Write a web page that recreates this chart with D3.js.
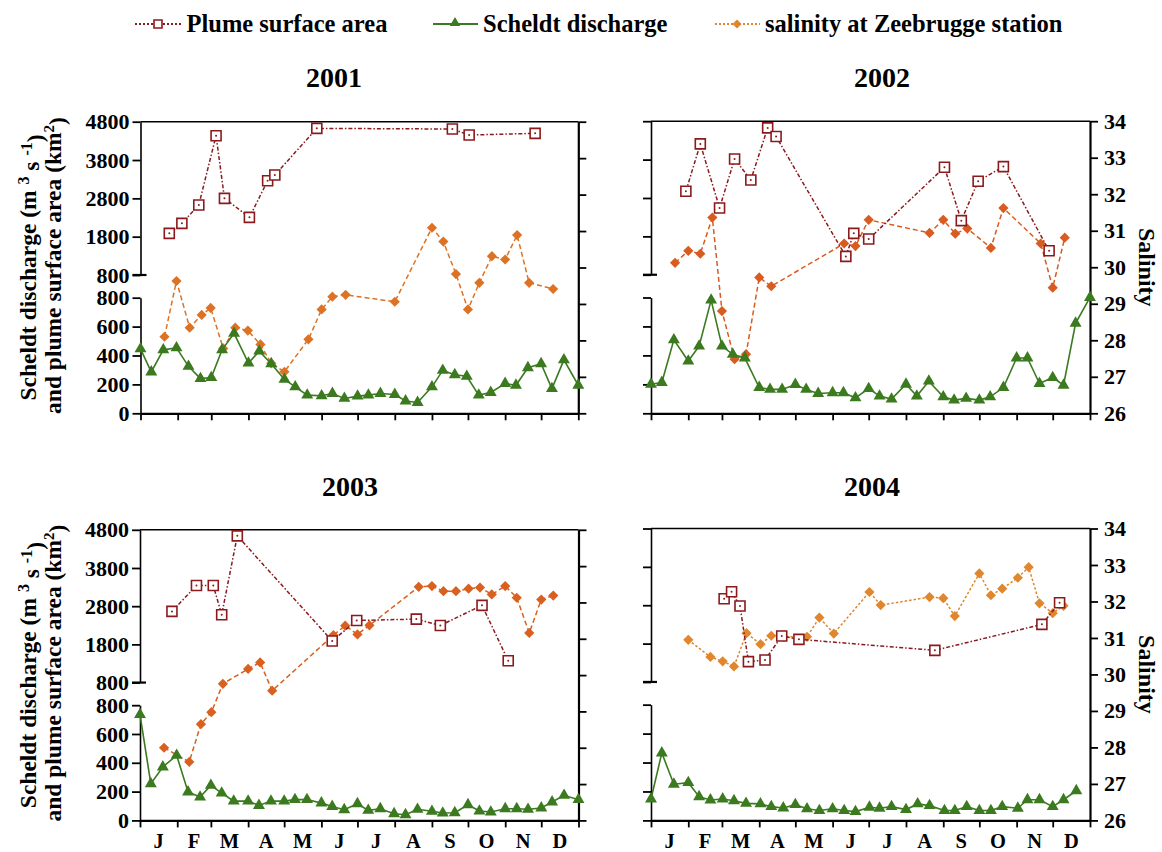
<!DOCTYPE html>
<html><head><meta charset="utf-8">
<script src="https://cdn.jsdelivr.net/npm/d3@7"></script>
<style>
body{margin:0;background:#fff}
svg text{font-family:"Liberation Serif","Times New Roman",serif;font-weight:bold;fill:#000}
</style>
</head><body><svg id="c" width="1162" height="852"></svg>
<script>
// ---------- data ----------
const months = ["J","F","M","A","M","J","J","A","S","O","N","D"];
const monthStarts = [0,31,59,90,120,151,181,212,243,273,304,334,365];
const dischargeTicks = [0,200,400,600,800];
const plumeTicks = [800,1800,2800,3800,4800];
const salinityTicks = [26,27,28,29,30,31,32,33,34];
const years = ["2001","2002","2003","2004"];
const legendLabels = ["Plume surface area","Scheldt discharge","salinity at Zeebrugge station"];

// [day of year, value]
const discharge2001 = [[0,446],[9,286],[19,439],[30,453],[40,325],[50,240],[59,247],[68,439],[78,553],[90,347],[99,430],[109,343],[120,235],[129,183],[139,126],[151,121],[160,137],[170,103],[181,119],[190,126],[200,137],[212,130],[221,85],[231,75],[243,183],[252,297],[262,267],[272,256],[282,126],[292,144],[304,206],[313,194],[323,315],[334,343],[343,171],[353,370],[365,194]];
const plume2001 = [[24,1887],[34.5,2148],[48.6,2626],[63,4435],[70,2800],[90.8,2304],[106,3261],[112,3409],[147,4626],[260,4609],[274,4452],[329,4496]];
const salinity2001 = [[20,28.10],[30,29.63],[41,28.35],[51,28.70],[58.5,28.89],[69,27.78],[79,28.35],[89.5,28.27],[100,27.89],[109,27.37],[120,27.14],[140,28.03],[151,28.85],[160,29.20],[171,29.25],[212,29.06],[243,31.09],[252.5,30.71],[263,29.82],[273,28.85],[282.5,29.58],[293,30.31],[304,30.22],[314,30.89],[324,29.58],[344,29.41]];

const discharge2002 = [[0,201],[9,213],[19,507],[31,361],[40,464],[50,782],[59,464],[68,407],[78,382],[90,178],[99,165],[109,165],[120,199],[129,165],[139,137],[151,142],[160,142],[170,107],[181,171],[190,119],[200,98],[212,201],[221,119],[231,222],[243,114],[252,91],[262,103],[273,91],[282,114],[293,178],[304,382],[313,382],[323,206],[334,247],[343,194],[353,622],[365,800]];
const plume2002 = [[29,2974],[41,4209],[57,2539],[69.5,3817],[83,3270],[97,4626],[104,4400],[162,1278],[168.6,1878],[181,1730],[244,3600],[258,2209],[272,3235],[293,3617],[331,1426]];
const salinity2002 = [[20,30.12],[31,30.45],[41,30.37],[51,31.36],[59,28.80],[69.5,27.48],[79,27.62],[90,29.72],[100,29.48],[160.6,30.65],[170,30.58],[181,31.30],[231.6,30.94],[243,31.30],[253,30.92],[263,31.06],[282.6,30.53],[293,31.62],[324,30.65],[334,29.44],[344,30.81]];

const discharge2003 = [[0,735],[9,255],[19,371],[30.5,452],[40,197],[50,162],[59,243],[68,190],[78,134],[90,134],[99,104],[109,134],[120,134],[129,144],[139,144],[151,121],[160,97],[170,74],[181,116],[190,70],[200,81],[211.5,46],[221,39],[231,77],[243,63],[252,51],[262,53],[273,109],[282.5,65],[292,58],[304,81],[313.6,81],[323,77],[334,86],[343,128],[353,174],[365,144]];
const plume2003 = [[26.6,2664],[47,3341],[61,3341],[68,2576],[81,4642],[160,1890],[180.4,2426],[230,2462],[250,2295],[284.7,2822],[306.5,1371]];
const salinity2003 = [[20,28.0],[41,27.61],[50.7,28.65],[59.4,28.98],[69,29.76],[90,30.17],[100,30.35],[110,29.57],[161,31.10],[170.8,31.36],[181,31.12],[191,31.37],[232,32.43],[243,32.45],[252.6,32.31],[263,32.31],[273.5,32.38],[283,32.41],[292.8,32.22],[304,32.45],[313.6,32.13],[324,31.16],[334,32.08],[344,32.19]];

const discharge2004 = [[0,148],[9,466],[19,250],[31,261],[40,164],[49.4,141],[59.6,148],[69,136],[79,118],[91,114],[100,95],[110,86],[120,109],[129.7,80],[140,68],[151,80],[160.6,68],[170,61],[181.6,91],[190,84],[200,95],[212,75],[221.7,114],[231.6,102],[244,68],[252.6,68],[262.5,95],[273,68],[282.6,68],[292,95],[305,84],[313,143],[323,143],[334,95],[343,143],[353.6,205]];
const plume2004 = [[60.8,2969],[67,3151],[74,2778],[81,1329],[94.8,1373],[108.7,1997],[123,1911],[236,1624],[325,2301],[339.7,2865]];
const salinity2004 = [[31,30.95],[49.4,30.48],[59.6,30.36],[69,30.22],[79.4,31.13],[91,30.83],[100,31.06],[110,31.03],[129.7,31.03],[140,31.56],[152,31.12],[181.6,32.26],[191,31.90],[231.6,32.12],[243,32.09],[252.6,31.60],[273,32.77],[282.6,32.17],[292,32.35],[305,32.65],[314,32.94],[323,31.95],[334,31.68],[343,31.88]];

// ---------- styles / layout ----------
const plumeColor = "#8a1a1c";
const dischargeColor = "#3b7a1f";
const plumeDash = "4,2,1.5,2";

const panels = [
  {year:years[0], plume:plume2001, discharge:discharge2001, salinity:salinity2001,
   x0:140.5, x1:578.3, y0:121.7, y1:413.3, left:true, right:false, mlab:false, tx:334, ty:87, sc:"#dd7224", sd:"5,3"},
  {year:years[1], plume:plume2002, discharge:discharge2002, salinity:salinity2002,
   x0:651, x1:1090, y0:121.2, y1:413.3, left:false, right:true, mlab:false, tx:882, ty:87, sc:"#d95b1f", sd:"5,3"},
  {year:years[2], plume:plume2003, discharge:discharge2003, salinity:salinity2003,
   x0:140, x1:578.5, y0:529.8, y1:820.4, left:true, right:false, mlab:true, tx:350, ty:496, sc:"#d9601f", sd:"5,3"},
  {year:years[3], plume:plume2004, discharge:discharge2004, salinity:salinity2004,
   x0:651, x1:1090, y0:528.5, y1:820.4, left:false, right:true, mlab:true, tx:872, ty:496, sc:"#e0862c", sd:"2.5,2"}
];

const svg = d3.select("#c");

function styleAxis(sel, w){
  sel.attr("font-family",null).attr("font-size",null);
  sel.selectAll("path.domain").attr("stroke","#000").attr("stroke-width",w);
  sel.selectAll(".tick line").attr("stroke","#000").attr("stroke-width",1.8);
  sel.selectAll(".tick text").style("font-size","22px");
}

const triSym = d3.symbol(d3.symbolTriangle, 62);
const sqSym = d3.symbol(d3.symbolSquare, 100);
const diaSym = d3.symbol(d3.symbolSquare, 52);

panels.forEach(p => {
  const g = svg.append("g");
  const x = d3.scaleLinear().domain([0,365]).range([p.x0,p.x1]);
  const h = p.y1 - p.y0;
  const yLow = d3.scaleLinear().domain([0,800]).range([p.y1, p.y0 + h*0.6035]);
  const yHigh = d3.scaleLinear().domain([800,4800]).range([p.y0 + h*0.5257, p.y0]);
  const ySal = d3.scaleLinear().domain([26,34]).range([p.y1, p.y0]);

  // top border
  g.append("line").attr("x1",p.x0).attr("x2",p.x1).attr("y1",p.y0).attr("y2",p.y0)
    .attr("stroke","#000").attr("stroke-width",1.6);

  const fmtL = p.left ? d3.format("d") : () => "";
  g.append("g").attr("transform",`translate(${p.x0},0)`)
    .call(d3.axisLeft(yHigh).tickValues(plumeTicks).tickSize(8).tickPadding(3).tickSizeOuter(0).tickFormat(fmtL))
    .call(s => styleAxis(s,1.6));
  g.append("g").attr("transform",`translate(${p.x0},0)`)
    .call(d3.axisLeft(yLow).tickValues(dischargeTicks).tickSize(8).tickPadding(3).tickSizeOuter(0).tickFormat(fmtL))
    .call(s => styleAxis(s,1.6));
  // break mark
  g.append("line").attr("x1",p.x0-8).attr("x2",p.x0+6).attr("y1",yHigh(800)).attr("y2",yHigh(800))
    .attr("stroke","#000").attr("stroke-width",2.2);

  const fmtR = p.right ? d3.format("d") : () => "";
  g.append("g").attr("transform",`translate(${p.x1},0)`)
    .call(d3.axisRight(ySal).tickValues(salinityTicks).tickSize(8).tickPadding(6).tickSizeOuter(0).tickFormat(fmtR))
    .call(s => styleAxis(s,2.2));

  g.append("g").attr("transform",`translate(0,${p.y1})`)
    .call(d3.axisBottom(x).tickValues(monthStarts).tickSize(7).tickSizeOuter(0).tickFormat(() => ""))
    .call(s => styleAxis(s,2.2));

  if (p.mlab) {
    g.selectAll("text.mon").data(months).join("text").attr("class","mon")
      .attr("x",(d,i) => x((monthStarts[i]+monthStarts[i+1])/2))
      .attr("y",p.y1 + 27.5).attr("text-anchor","middle").style("font-size","20.5px").text(d => d);
  }

  // title
  g.append("text").attr("x",p.tx).attr("y",p.ty).attr("text-anchor","middle")
    .style("font-size","28px").text(p.year);

  // salinity
  const salLine = d3.line().x(d => x(d[0])).y(d => ySal(d[1]));
  g.append("path").attr("d",salLine(p.salinity)).attr("fill","none")
    .attr("stroke",p.sc).attr("stroke-width",1.5).attr("stroke-dasharray",p.sd);
  g.selectAll("path.sal").data(p.salinity).join("path").attr("class","sal")
    .attr("d",diaSym).attr("fill",p.sc)
    .attr("transform",d => `translate(${x(d[0])},${ySal(d[1])}) rotate(45)`);

  // discharge
  const disLine = d3.line().x(d => x(d[0])).y(d => yLow(d[1]));
  g.append("path").attr("d",disLine(p.discharge)).attr("fill","none")
    .attr("stroke",dischargeColor).attr("stroke-width",1.6);
  g.selectAll("path.dis").data(p.discharge).join("path").attr("class","dis")
    .attr("d",triSym).attr("fill",dischargeColor)
    .attr("transform",d => `translate(${x(d[0])},${yLow(d[1])})`);

  // plume
  const plLine = d3.line().x(d => x(d[0])).y(d => yHigh(d[1]));
  g.append("path").attr("d",plLine(p.plume)).attr("fill","none")
    .attr("stroke",plumeColor).attr("stroke-width",1.5).attr("stroke-dasharray",plumeDash);
  const sq = g.selectAll("g.pl").data(p.plume).join("g").attr("class","pl")
    .attr("transform",d => `translate(${x(d[0])},${yHigh(d[1])})`);
  sq.append("path").attr("d",sqSym).attr("fill","#fff").attr("stroke",plumeColor).attr("stroke-width",1.6);
  sq.append("circle").attr("r",1).attr("fill",plumeColor);

  // salinity axis title
  if (p.right) {
    g.append("text").attr("text-anchor","middle").style("font-size","24px")
      .attr("transform",`translate(1138.5,${(p.y0+p.y1)/2}) rotate(90)`).text("Salinity");
  }
  // left axis title
  if (p.left) {
    const cy = (p.y0+p.y1)/2;
    const t1 = g.append("text").attr("text-anchor","middle").style("font-size","23.5px")
      .attr("transform",`translate(36,${cy}) rotate(-90)`);
    t1.append("tspan").text("Scheldt discharge (m ");
    t1.append("tspan").attr("dy","-0.45em").style("font-size","16px").text("3");
    t1.append("tspan").attr("dy","0.45em").text(" s ");
    t1.append("tspan").attr("dy","-0.45em").style("font-size","16px").text("-1");
    t1.append("tspan").attr("dy","0.45em").text(")");
    const t2 = g.append("text").attr("text-anchor","middle").style("font-size","23.5px")
      .attr("transform",`translate(61,${cy - 2}) rotate(-90)`);
    t2.append("tspan").text("and plume surface area (km");
    t2.append("tspan").attr("dy","-0.45em").style("font-size","15px").text("2");
    t2.append("tspan").attr("dy","0.45em").text(")");
  }
});

// ---------- legend ----------
const lg = svg.append("g");
const ly = 24;
// plume
lg.append("line").attr("x1",135).attr("x2",183).attr("y1",ly).attr("y2",ly)
  .attr("stroke",plumeColor).attr("stroke-width",1.8).attr("stroke-dasharray","2,2");
lg.append("path").attr("d",d3.symbol(d3.symbolSquare,64)).attr("fill","#fff")
  .attr("stroke",plumeColor).attr("stroke-width",1.6).attr("transform",`translate(158,${ly})`);
lg.append("text").attr("x",186.5).attr("y",32).style("font-size","24.5px").text(legendLabels[0]);
// discharge
lg.append("line").attr("x1",433).attr("x2",478).attr("y1",ly).attr("y2",ly)
  .attr("stroke",dischargeColor).attr("stroke-width",2.2);
lg.append("path").attr("d",d3.symbol(d3.symbolTriangle,48)).attr("fill",dischargeColor)
  .attr("transform",`translate(455,${ly-1})`);
lg.append("text").attr("x",483).attr("y",32).style("font-size","24.5px").text(legendLabels[1]);
// salinity
lg.append("line").attr("x1",715).attr("x2",760).attr("y1",ly).attr("y2",ly)
  .attr("stroke","#e0862c").attr("stroke-width",1.8).attr("stroke-dasharray","2,2");
lg.append("path").attr("d",d3.symbol(d3.symbolSquare,40)).attr("fill","#e0862c")
  .attr("transform",`translate(737,${ly}) rotate(45)`);
lg.append("text").attr("x",765).attr("y",32).style("font-size","24.5px").text(legendLabels[2]);
</script>
</body></html>
